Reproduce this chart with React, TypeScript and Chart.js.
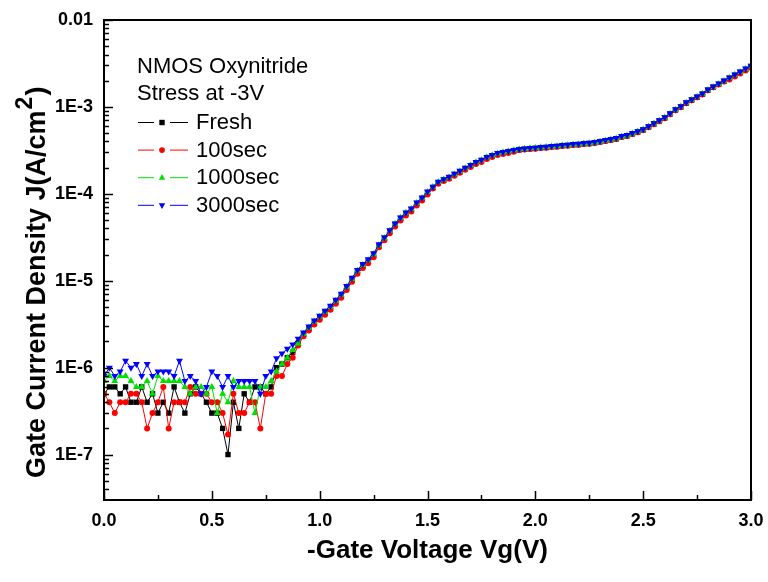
import React, { useEffect, useRef } from "react";
import { Chart, registerables } from "chart.js";

Chart.register(...registerables);

const voltage: number[] = [
  0, 0.025, 0.05, 0.075, 0.1, 0.125, 0.15, 0.175, 0.2, 0.225,
  0.25, 0.275, 0.3, 0.325, 0.35, 0.375, 0.4, 0.425, 0.45, 0.475,
  0.5, 0.525, 0.55, 0.575, 0.6, 0.625, 0.65, 0.675, 0.7, 0.725,
  0.75, 0.775, 0.8, 0.825, 0.85, 0.875, 0.9, 0.925, 0.95, 0.975,
  1.0, 1.025, 1.05, 1.075, 1.1, 1.125, 1.15, 1.175, 1.2, 1.225,
  1.25, 1.275, 1.3, 1.325, 1.35, 1.375, 1.4, 1.425, 1.45, 1.475,
  1.5, 1.525, 1.55, 1.575, 1.6, 1.625, 1.65, 1.675, 1.7, 1.725,
  1.75, 1.775, 1.8, 1.825, 1.85, 1.875, 1.9, 1.925, 1.95, 1.975,
  2.0, 2.025, 2.05, 2.075, 2.1, 2.125, 2.15, 2.175, 2.2, 2.225,
  2.25, 2.275, 2.3, 2.325, 2.35, 2.375, 2.4, 2.425, 2.45, 2.475,
  2.5, 2.525, 2.55, 2.575, 2.6, 2.625, 2.65, 2.675, 2.7, 2.725,
  2.75, 2.775, 2.8, 2.825, 2.85, 2.875, 2.9, 2.925, 2.95, 2.975,
  3.0,
];

const fresh: number[] = [
  5e-7, 6e-7, 6e-7, 5e-7, 6e-7, 4e-7, 4e-7, 6e-7, 4e-7, 5e-7,
  3e-7, 4e-7, 3e-7, 6e-7, 4e-7, 3e-7, 5e-7, 6e-7, 5e-7, 4e-7,
  3e-7, 3e-7, 2e-7, 1e-7, 4e-7, 2e-7, 5e-7, 4e-7, 6e-7, 6e-7,
  5e-7, 6e-7, 1.0e-6, 1.1e-6, 1.3e-6, 1.5e-6, 1.9e-6,
  2.41e-6, 2.82e-6, 3.30e-6, 3.76e-6, 4.29e-6, 4.89e-6, 5.73e-6, 6.71e-6, 8.26e-6, 1.02e-5,
  1.26e-5, 1.48e-5, 1.68e-5, 1.96e-5, 2.50e-5, 3.00e-5,
  3.70e-5, 4.45e-5, 5.21e-5, 5.94e-5, 6.60e-5, 7.73e-5, 8.81e-5, 1.03e-4, 1.18e-4, 1.34e-4,
  1.43e-4, 1.53e-4,
  1.67e-4, 1.80e-4, 1.95e-4, 2.11e-4, 2.28e-4, 2.41e-4, 2.61e-4, 2.74e-4, 2.89e-4, 2.97e-4,
  3.05e-4, 3.14e-4, 3.21e-4, 3.25e-4, 3.30e-4, 3.33e-4, 3.39e-4, 3.41e-4, 3.48e-4, 3.50e-4,
  3.58e-4, 3.60e-4, 3.67e-4, 3.68e-4, 3.76e-4, 3.79e-4, 3.86e-4, 3.97e-4, 4.08e-4, 4.18e-4,
  4.29e-4, 4.53e-4, 4.65e-4, 4.90e-4, 5.15e-4, 5.44e-4, 5.89e-4, 6.37e-4, 6.89e-4, 7.46e-4,
  8.28e-4, 9.20e-4, 1.00e-3, 1.11e-3, 1.20e-3, 1.29e-3, 1.40e-3, 1.56e-3, 1.69e-3, 1.82e-3,
  1.97e-3, 2.14e-3, 2.31e-3, 2.50e-3, 2.70e-3, 2.92e-3,
];

const sec100: number[] = [
  5e-7, 4e-7, 3e-7, 4e-7, 4e-7, 5e-7, 5e-7, 4e-7, 2e-7, 3e-7,
  4e-7, 6e-7, 2e-7, 4e-7, 4e-7, 4e-7, 6e-7, 5e-7, 5e-7, 5e-7,
  4e-7, 4e-7, 3e-7, 1.7e-7, 5e-7, 3e-7, 3e-7, 4e-7, 4e-7, 2e-7,
  5e-7, 5e-7, 8e-7, 8e-7, 1.1e-6, 1.3e-6, 1.8e-6,
  2.3e-6, 2.67e-6, 3.13e-6, 3.56e-6, 4.07e-6, 4.64e-6, 5.44e-6, 6.36e-6, 7.83e-6, 9.72e-6,
  1.20e-5, 1.40e-5, 1.59e-5, 1.86e-5,
  2.43e-5, 2.92e-5, 3.51e-5, 4.22e-5, 4.94e-5, 5.64e-5, 6.26e-5, 7.34e-5, 8.36e-5, 9.79e-5,
  1.15e-4, 1.31e-4, 1.40e-4, 1.49e-4, 1.61e-4, 1.75e-4, 1.89e-4, 2.04e-4, 2.21e-4, 2.33e-4,
  2.52e-4, 2.66e-4, 2.80e-4, 2.88e-4, 2.95e-4, 3.04e-4,
  3.19e-4, 3.23e-4, 3.28e-4, 3.31e-4, 3.37e-4, 3.39e-4, 3.46e-4, 3.48e-4, 3.56e-4, 3.57e-4,
  3.64e-4, 3.66e-4, 3.74e-4, 3.77e-4, 3.84e-4, 3.94e-4, 4.05e-4, 4.16e-4, 4.27e-4, 4.50e-4,
  4.62e-4, 4.87e-4, 5.12e-4, 5.41e-4, 5.85e-4, 6.33e-4, 6.85e-4, 7.41e-4, 8.23e-4, 9.15e-4,
  9.93e-4, 1.10e-3, 1.19e-3, 1.29e-3, 1.39e-3, 1.55e-3, 1.68e-3, 1.81e-3, 1.96e-3,
  2.07e-3, 2.24e-3, 2.42e-3, 2.62e-3, 2.83e-3,
];

const sec1000: number[] = [
  7e-7, 8e-7, 7e-7, 8e-7, 8e-7, 7e-7, 6e-7, 6e-7, 7e-7, 5e-7,
  8e-7, 7e-7, 7e-7, 7e-7, 7e-7, 6e-7, 5e-7, 6e-7, 6e-7, 5e-7,
  6e-7, 3e-7, 5e-7, 4e-7, 7e-7, 6e-7, 6e-7, 6e-7, 3e-7, 6e-7,
  6e-7, 7e-7, 9e-7, 1.1e-6, 1.3e-6, 1.6e-6, 1.9e-6,
  2.45e-6, 2.89e-6, 3.39e-6, 3.86e-6, 4.40e-6, 5.02e-6, 5.88e-6, 6.89e-6, 8.47e-6, 1.05e-5,
  1.30e-5, 1.52e-5, 1.72e-5, 2.02e-5, 2.56e-5, 3.08e-5,
  3.76e-5, 4.52e-5, 5.30e-5, 6.04e-5, 6.71e-5, 7.86e-5, 8.96e-5, 1.05e-4, 1.20e-4, 1.37e-4,
  1.46e-4, 1.55e-4, 1.68e-4, 1.82e-4, 1.97e-4, 2.13e-4, 2.31e-4, 2.44e-4, 2.63e-4, 2.77e-4,
  2.92e-4, 3.00e-4, 3.08e-4, 3.17e-4, 3.25e-4, 3.29e-4, 3.34e-4, 3.37e-4, 3.43e-4, 3.45e-4,
  3.51e-4, 3.53e-4, 3.61e-4, 3.63e-4, 3.70e-4, 3.72e-4, 3.80e-4, 3.83e-4, 3.90e-4, 4.01e-4,
  4.12e-4, 4.23e-4, 4.34e-4, 4.57e-4, 4.69e-4, 4.95e-4, 5.21e-4, 5.49e-4, 5.95e-4, 6.44e-4,
  6.96e-4, 7.53e-4, 8.37e-4, 9.30e-4, 1.01e-3, 1.12e-3, 1.21e-3, 1.31e-3, 1.42e-3, 1.57e-3,
  1.70e-3, 1.84e-3, 1.99e-3, 2.16e-3, 2.34e-3, 2.52e-3, 2.73e-3, 2.95e-3,
];

const sec3000: number[] = [
  8e-7, 1e-6, 8e-7, 9e-7, 1.2e-6, 1e-6, 1.1e-6, 8e-7, 1.1e-6, 8e-7,
  9e-7, 9e-7, 9e-7, 8e-7, 1.2e-6, 7e-7, 8e-7, 7e-7, 5e-7, 6e-7,
  9e-7, 8e-7, 6e-7, 8e-7, 6e-7, 7e-7, 7e-7, 7e-7, 7e-7, 5e-7,
  8e-7, 9e-7, 1.28e-6, 1.45e-6, 1.65e-6, 1.85e-6, 2.15e-6,
  2.54e-6, 2.97e-6, 3.48e-6, 3.96e-6, 4.52e-6, 5.15e-6, 6.04e-6, 7.07e-6, 8.70e-6, 1.08e-5,
  1.33e-5, 1.56e-5, 1.77e-5, 2.07e-5, 2.63e-5, 3.16e-5, 3.80e-5, 4.57e-5, 5.35e-5, 6.10e-5,
  6.78e-5, 7.94e-5, 9.05e-5, 1.06e-4, 1.21e-4, 1.38e-4, 1.47e-4, 1.57e-4, 1.70e-4, 1.84e-4,
  1.99e-4, 2.15e-4, 2.33e-4, 2.46e-4, 2.66e-4, 2.80e-4, 2.95e-4, 3.03e-4, 3.11e-4, 3.20e-4,
  3.28e-4, 3.32e-4, 3.37e-4, 3.40e-4, 3.46e-4, 3.48e-4, 3.55e-4, 3.57e-4, 3.65e-4, 3.67e-4,
  3.74e-4, 3.76e-4, 3.84e-4, 3.87e-4, 3.94e-4, 4.05e-4, 4.16e-4, 4.27e-4, 4.38e-4, 4.62e-4,
  4.74e-4, 5.00e-4, 5.26e-4, 5.55e-4, 6.01e-4, 6.50e-4, 7.03e-4, 7.61e-4, 8.45e-4, 9.39e-4,
  1.02e-3, 1.13e-3, 1.22e-3, 1.32e-3, 1.43e-3, 1.59e-3, 1.72e-3, 1.86e-3, 2.01e-3, 2.18e-3,
  2.36e-3, 2.55e-3, 2.76e-3, 2.98e-3,
];

const seriesLabels: string[] = ["Fresh", "100sec", "1000sec", "3000sec"];
const seriesColors: string[] = ["#000000", "#ff0000", "#00e000", "#0000ff"];
const legendTitle: string[] = ["NMOS Oxynitride", "Stress at -3V"];

const xTitle = "-Gate Voltage Vg(V)";
const yTitleMain = "Gate Current Density J(A/cm";
const yTitleSup = "2";
const yTitleEnd = ")";

const yMajorTicks: number[] = [1e-7, 1e-6, 1e-5, 1e-4, 1e-3, 1e-2];
const yTickLabels: string[] = ["1E-7", "1E-6", "1E-5", "1E-4", "1E-3", "0.01"];
const yMinorTicks: number[] = [
  4e-8, 5e-8, 6e-8, 7e-8, 8e-8, 9e-8,
  2e-7, 3e-7, 4e-7, 5e-7, 6e-7, 7e-7, 8e-7, 9e-7,
  2e-6, 3e-6, 4e-6, 5e-6, 6e-6, 7e-6, 8e-6, 9e-6,
  2e-5, 3e-5, 4e-5, 5e-5, 6e-5, 7e-5, 8e-5, 9e-5,
  2e-4, 3e-4, 4e-4, 5e-4, 6e-4, 7e-4, 8e-4, 9e-4,
  2e-3, 3e-3, 4e-3, 5e-3, 6e-3, 7e-3, 8e-3, 9e-3,
];
const xMajorTicks: number[] = [0, 0.5, 1, 1.5, 2, 2.5, 3];
const xMinorTicks: number[] = [0.25, 0.75, 1.25, 1.75, 2.25, 2.75];

const FONT = '"Liberation Sans", Arial, Helvetica, sans-serif';

function drawMarker(ctx: CanvasRenderingContext2D, kind: number, x: number, y: number, r: number) {
  ctx.beginPath();
  if (kind === 0) {
    ctx.rect(x - r * 0.75, y - r * 0.75, r * 1.5, r * 1.5);
  } else if (kind === 1) {
    ctx.arc(x, y, r * 0.8, 0, Math.PI * 2);
  } else if (kind === 2) {
    ctx.moveTo(x, y - r);
    ctx.lineTo(x + r * 0.9, y + r * 0.6);
    ctx.lineTo(x - r * 0.9, y + r * 0.6);
    ctx.closePath();
  } else {
    ctx.moveTo(x, y + r);
    ctx.lineTo(x + r * 0.9, y - r * 0.6);
    ctx.lineTo(x - r * 0.9, y - r * 0.6);
    ctx.closePath();
  }
  ctx.fill();
}

const decorPlugin = {
  id: "decor",
  afterDatasetsDraw(chart: any) {
    const { ctx, chartArea: a, scales } = chart;
    const xs = scales.x;
    const ys = scales.y;
    ctx.save();
    ctx.strokeStyle = "#000";
    ctx.fillStyle = "#000";
    ctx.lineWidth = 1.5;
    ctx.beginPath();
    for (const v of yMajorTicks) {
      const p = Math.round(ys.getPixelForValue(v)) + 0.5;
      ctx.moveTo(a.left, p);
      ctx.lineTo(a.left + 9, p);
    }
    for (const v of yMinorTicks) {
      const p = Math.round(ys.getPixelForValue(v)) + 0.5;
      ctx.moveTo(a.left, p);
      ctx.lineTo(a.left + 5, p);
    }
    for (const v of xMajorTicks) {
      const p = Math.round(xs.getPixelForValue(v)) + 0.5;
      ctx.moveTo(p, a.bottom);
      ctx.lineTo(p, a.bottom - 9);
    }
    for (const v of xMinorTicks) {
      const p = Math.round(xs.getPixelForValue(v)) + 0.5;
      ctx.moveTo(p, a.bottom);
      ctx.lineTo(p, a.bottom - 5);
    }
    ctx.stroke();

    ctx.lineWidth = 2;
    ctx.strokeRect(a.left, a.top, a.right - a.left, a.bottom - a.top);

    // legend block
    ctx.font = `22px ${FONT}`;
    ctx.textBaseline = "middle";
    ctx.textAlign = "left";
    ctx.fillText(legendTitle[0], 137, 67);
    ctx.fillText(legendTitle[1], 137, 94);
    for (let i = 0; i < seriesLabels.length; i++) {
      const y = 122 + i * 27.6;
      ctx.strokeStyle = seriesColors[i];
      ctx.fillStyle = seriesColors[i];
      ctx.lineWidth = 1;
      ctx.beginPath();
      ctx.moveTo(138, y + 0.5);
      ctx.lineTo(154, y + 0.5);
      ctx.moveTo(170, y + 0.5);
      ctx.lineTo(188, y + 0.5);
      ctx.stroke();
      drawMarker(ctx, i, 162, y + 0.5, 3.6);
      ctx.fillStyle = "#000";
      ctx.fillText(seriesLabels[i], 196, y + 1);
    }

    // x title
    ctx.fillStyle = "#000";
    ctx.font = `bold 26px ${FONT}`;
    ctx.textAlign = "center";
    ctx.textBaseline = "alphabetic";
    ctx.fillText(xTitle, (a.left + a.right) / 2, 558);

    // y title
    ctx.save();
    ctx.translate(45, 478);
    ctx.rotate(-Math.PI / 2);
    ctx.textAlign = "left";
    ctx.textBaseline = "alphabetic";
    ctx.font = `bold 27px ${FONT}`;
    ctx.fillText(yTitleMain, 0, 0);
    const w1 = ctx.measureText(yTitleMain).width;
    ctx.font = `bold 23px ${FONT}`;
    ctx.fillText(yTitleSup, w1 + 1, -13);
    const w2 = ctx.measureText(yTitleSup).width;
    ctx.font = `bold 27px ${FONT}`;
    ctx.fillText(yTitleEnd, w1 + w2 + 2, 0);
    ctx.restore();

    ctx.restore();
  },
};

export default function App() {
  const canvasRef = useRef<HTMLCanvasElement | null>(null);

  useEffect(() => {
    const canvas = canvasRef.current;
    if (!canvas) return;
    const seriesValues = [fresh, sec100, sec1000, sec3000];
    const pointStyles = ["rect", "circle", "triangle", "triangle"];
    const radii = [3.8, 3.0, 4.0, 4.0];
    const rotations = [0, 0, 0, 180];
    const orders = [3, 2, 1, 0];
    const chart = new Chart(canvas, {
      type: "line",
      data: {
        datasets: seriesValues.map((vals, i) => ({
          label: seriesLabels[i],
          data: voltage.map((v, j) => ({ x: v, y: vals[j] })),
          borderColor: seriesColors[i],
          backgroundColor: seriesColors[i],
          borderWidth: 1,
          pointStyle: pointStyles[i] as any,
          pointRadius: radii[i],
          pointRotation: rotations[i],
          pointBackgroundColor: seriesColors[i],
          pointBorderColor: seriesColors[i],
          pointBorderWidth: 0,
          tension: 0,
          order: orders[i],
        })),
      },
      options: {
        animation: false,
        responsive: false,
        maintainAspectRatio: false,
        devicePixelRatio: 1,
        layout: { padding: { top: 20, right: 17, left: 0, bottom: 0 } },
        plugins: {
          legend: { display: false },
          tooltip: { enabled: false },
        },
        scales: {
          x: {
            type: "linear",
            min: 0,
            max: 3,
            grid: { display: false, drawTicks: false },
            border: { display: false },
            ticks: {
              stepSize: 0.5,
              autoSkip: false,
              maxRotation: 0,
              padding: 10,
              color: "#000",
              font: { family: FONT, size: 18, weight: "bold" },
              callback: (v: any) => Number(v).toFixed(1),
            },
            afterFit: (s: any) => {
              s.height = 82;
              s.paddingLeft = 0;
              s.paddingRight = 0;
            },
          },
          y: {
            type: "logarithmic",
            min: 3.3e-8,
            max: 1e-2,
            grid: { display: false, drawTicks: false },
            border: { display: false },
            afterBuildTicks: (s: any) => {
              s.ticks = yMajorTicks.map((v) => ({ value: v }));
            },
            ticks: {
              autoSkip: false,
              padding: 11,
              color: "#000",
              font: { family: FONT, size: 18, weight: "bold" },
              callback: (_v: any, i: number) => yTickLabels[i],
            },
            afterFit: (s: any) => {
              s.width = 104;
              s.paddingTop = 0;
              s.paddingBottom = 0;
            },
          },
        },
      },
      plugins: [decorPlugin],
    });
    return () => chart.destroy();
  }, []);

  return (
    <div style={{ position: "absolute", left: 0, top: 0, width: 768, height: 582, background: "#fff" }}>
      <canvas ref={canvasRef} width={768} height={582} style={{ width: 768, height: 582, display: "block" }} />
    </div>
  );
}
